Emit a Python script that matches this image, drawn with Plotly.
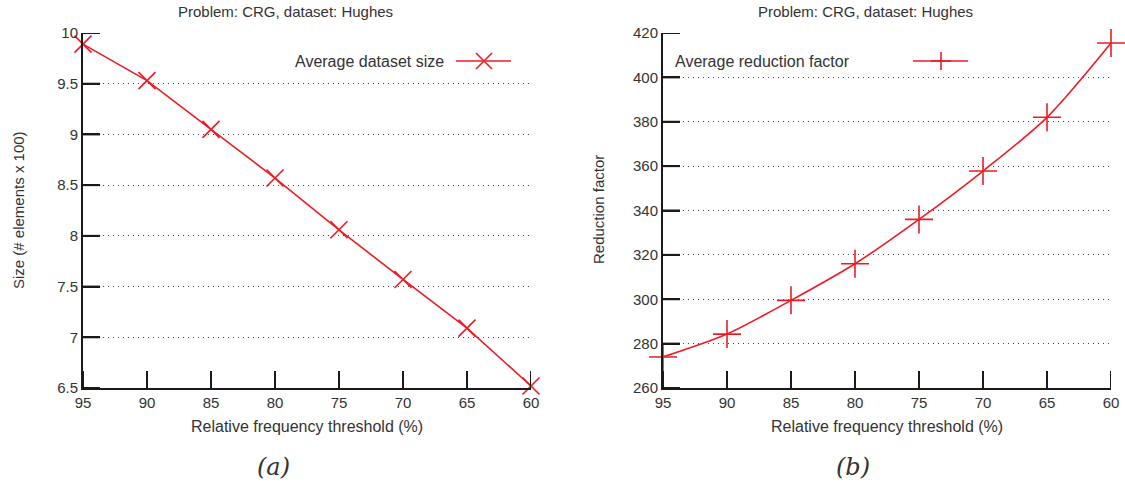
import plotly.graph_objects as go

thresholds = [95, 90, 85, 80, 75, 70, 65, 60]
avg_size = [9.89, 9.53, 9.05, 8.57, 8.06, 7.57, 7.09, 6.52]
avg_reduction = [274, 284.3, 299.5, 316, 336, 357.8, 382, 415.5]

x_ticks = [95, 90, 85, 80, 75, 70, 65, 60]
y_ticks_a = [6.5, 7, 7.5, 8, 8.5, 9, 9.5, 10]
y_ticks_b = [260, 280, 300, 320, 340, 360, 380, 400, 420]

RED = "rgb(237,28,36)"
AX = "#1a1a1a"
TXT = "#333333"
FONT = "Liberation Sans, Arial, sans-serif"

W, H = 1125, 485
def px(x):
    return x / W
def py(y):
    return 1 - y / H

PLOT_W = 448.0
PLOT_H = 355.0
TICKLEN = 17

fig = go.Figure()

fig.add_trace(go.Scatter(
    x=thresholds, y=avg_size, mode="lines+markers", name="Average dataset size",
    line=dict(color=RED, width=1.6),
    marker=dict(symbol="x-thin", size=17, line=dict(color=RED, width=1.6)),
    cliponaxis=False, showlegend=False, xaxis="x", yaxis="y"))

fig.add_trace(go.Scatter(
    x=thresholds, y=avg_reduction, mode="lines+markers", name="Average reduction factor",
    line=dict(color=RED, width=1.6, shape="spline", smoothing=0.8),
    marker=dict(symbol="cross-thin", size=20, line=dict(color=RED, width=1.6)),
    cliponaxis=False, showlegend=False, xaxis="x2", yaxis="y2"))

ydom = [py(388), py(33)]
common_x = dict(
    range=[95, 60], tickvals=x_ticks, ticks="inside", ticklen=TICKLEN,
    tickwidth=2, tickcolor=AX, showline=True, linecolor=AX, linewidth=2,
    showgrid=False, zeroline=False,
    tickfont=dict(family=FONT, size=15, color=TXT),
)
common_y = dict(
    ticks="inside", ticklen=TICKLEN, tickwidth=2, tickcolor=AX,
    showline=True, linecolor=AX, linewidth=2, showgrid=True,
    gridcolor="#444444", griddash="1px,4px", gridwidth=1, zeroline=False,
    tickfont=dict(family=FONT, size=15, color=TXT),
)

fig.update_layout(
    width=W, height=H, margin=dict(l=0, r=0, t=0, b=0, autoexpand=False),
    paper_bgcolor="white", plot_bgcolor="white", showlegend=False,
    xaxis=dict(domain=[px(83), px(531)], anchor="y", **common_x),
    yaxis=dict(domain=ydom, anchor="x", range=[6.5, 10], tickvals=y_ticks_a,
               ticktext=[("%g" % v) for v in y_ticks_a], **common_y),
    xaxis2=dict(domain=[px(663), px(1111)], anchor="y2", **common_x),
    yaxis2=dict(domain=ydom, anchor="x2", range=[260, 420], tickvals=y_ticks_b,
                **common_y),
)

annotations = []
for cx, lab in [((83 + 531) / 2, "(a)"), ((663 + 1111) / 2, "(b)")]:
    annotations.append(dict(x=px(cx - 22), y=py(11), xref="paper", yref="paper",
                            text="Problem: CRG, dataset: Hughes", showarrow=False,
                            font=dict(family=FONT, size=15, color=TXT),
                            xanchor="center", yanchor="middle"))
    annotations.append(dict(x=px(cx - 34), y=py(467), xref="paper", yref="paper",
                            text="<i>" + lab + "</i>", showarrow=False,
                            font=dict(family="DejaVu Serif, serif", size=24, color=TXT),
                            xanchor="center", yanchor="middle"))
    annotations.append(dict(x=px(cx - 0), y=py(426), xref="paper", yref="paper",
                            text="Relative frequency threshold (%)", showarrow=False,
                            font=dict(family=FONT, size=16, color=TXT),
                            xanchor="center", yanchor="middle"))
annotations.append(dict(x=px(18), y=py(210), xref="paper", yref="paper",
                        text="Size (# elements x 100)", showarrow=False, textangle=-90,
                        font=dict(family=FONT, size=15, color=TXT),
                        xanchor="center", yanchor="middle"))
annotations.append(dict(x=px(598), y=py(210), xref="paper", yref="paper",
                        text="Reduction factor", showarrow=False, textangle=-90,
                        font=dict(family=FONT, size=15, color=TXT),
                        xanchor="center", yanchor="middle"))
annotations.append(dict(x=px(446), y=py(61), xref="paper", yref="paper",
                        text="Average dataset size", showarrow=False,
                        font=dict(family=FONT, size=16, color=TXT),
                        xanchor="right", yanchor="middle"))
annotations.append(dict(x=px(673), y=py(61), xref="paper", yref="paper",
                        text="Average reduction factor", showarrow=False,
                        font=dict(family=FONT, size=16, color=TXT),
                        xanchor="left", yanchor="middle"))
fig.update_layout(annotations=annotations)

shapes = []
# inward tick marks, placed through the axes' own scales (backup for hidden end ticks)
for xa, ya, yt in [("x", "y", y_ticks_a), ("x2", "y2", y_ticks_b)]:
    for t in x_ticks:
        shapes.append(dict(type="line", xref=xa, yref=ya + " domain",
                           x0=t, x1=t, y0=0, y1=TICKLEN / PLOT_H,
                           line=dict(color=AX, width=2), layer="above"))
    for t in yt:
        shapes.append(dict(type="line", xref=xa + " domain", yref=ya,
                           x0=0, x1=TICKLEN / PLOT_W, y0=t, y1=t,
                           line=dict(color=AX, width=2), layer="above"))

def seg(x0, y0, x1, y1):
    shapes.append(dict(type="line", xref="paper", yref="paper",
                       x0=px(x0), y0=py(y0), x1=px(x1), y1=py(y1),
                       line=dict(color=RED, width=1.6)))
seg(456, 61, 511, 61)
seg(484 - 8, 61 - 8, 484 + 8, 61 + 8)
seg(484 - 8, 61 + 8, 484 + 8, 61 - 8)
seg(913, 61, 968, 61)
seg(941, 61 - 9, 941, 61 + 9)
seg(941 - 10, 61, 941 + 10, 61)
fig.update_layout(shapes=shapes)

fig.write_html("out.html")
